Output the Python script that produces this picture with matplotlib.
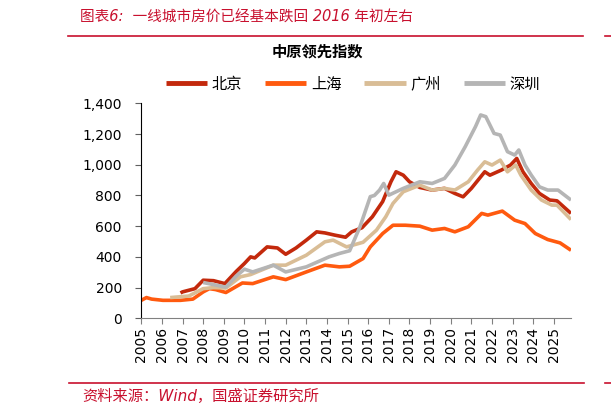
import matplotlib
matplotlib.use("Agg")
import matplotlib.pyplot as plt
from matplotlib.lines import Line2D
from matplotlib.ticker import StrMethodFormatter

plt.rcParams["font.family"] = ["DejaVu Sans", "Noto Sans CJK SC"]

# 中原领先指数（按图读数，时间为小数年份）
bj_t = [2006.9, 2007.0, 2007.6, 2008.0, 2008.5, 2009.05, 2009.6, 2010.0, 2010.3, 2010.5,
        2011.1, 2011.6, 2012.0, 2012.5, 2013.0, 2013.5, 2013.9, 2014.4, 2014.9, 2015.2,
        2015.7, 2016.2, 2016.7, 2017.1, 2017.35, 2017.7, 2018.0, 2018.5, 2019.1, 2019.7,
        2020.2, 2020.6, 2021.0, 2021.65, 2021.9, 2022.45, 2022.9, 2023.2, 2023.5, 2023.9,
        2024.3, 2024.8, 2025.15, 2025.83]
bj_v = [165, 172, 193, 248, 245, 226, 305, 357, 400, 393,
        465, 458, 417, 458, 509, 563, 556, 541, 528, 563,
        590, 661, 760, 889, 954, 932, 889, 852, 835, 846,
        813, 791, 846, 954, 932, 965, 998, 1041, 954, 878,
        813, 770, 765, 683]

sh_t = [2005.0, 2005.25, 2005.5, 2006.05, 2006.9, 2007.5, 2008.0, 2008.3, 2008.6, 2009.1,
        2009.9, 2010.4, 2011.4, 2012.0, 2013.0, 2013.9, 2014.6, 2015.1, 2015.75, 2016.1,
        2016.55, 2016.7, 2017.2, 2017.8, 2018.5, 2019.1, 2019.7, 2020.2, 2020.85, 2021.5,
        2021.8, 2022.5, 2023.1, 2023.6, 2024.1, 2024.7, 2025.3, 2025.83]
sh_v = [117, 135, 125, 117, 117, 125, 172, 193, 187, 168,
        230, 226, 270, 252, 302, 346, 335, 339, 389, 465,
        530, 552, 606, 606, 600, 574, 585, 563, 596, 683,
        672, 698, 639, 617, 552, 513, 491, 443]

gz_t = [2006.4, 2007.3, 2008.0, 2008.5, 2009.1, 2009.8, 2010.3, 2011.4, 2012.0, 2013.0,
        2013.9, 2014.3, 2014.95, 2015.75, 2016.4, 2016.85, 2017.2, 2017.7, 2018.5, 2019.1,
        2019.7, 2020.2, 2020.85, 2021.3, 2021.65, 2022.0, 2022.4, 2022.75, 2023.15, 2023.4,
        2023.9, 2024.4, 2024.9, 2025.15, 2025.83]
gz_v = [135, 145, 193, 200, 197, 270, 285, 346, 346, 411,
        498, 509, 465, 495, 574, 661, 748, 824, 867, 835,
        846, 835, 889, 965, 1019, 998, 1030, 954, 998, 932,
        835, 770, 737, 737, 643]

sz_t = [2008.0, 2009.1, 2009.6, 2010.0, 2010.4, 2011.4, 2012.0, 2013.0, 2014.1, 2014.6,
        2015.1, 2015.6, 2016.1, 2016.3, 2016.55, 2016.75, 2017.0, 2017.7, 2018.5, 2019.1,
        2019.7, 2020.2, 2020.7, 2021.2, 2021.45, 2021.7, 2022.1, 2022.4, 2022.75, 2023.1,
        2023.3, 2023.6, 2023.9, 2024.3, 2024.7, 2025.2, 2025.83]
sz_v = [233, 203, 275, 320, 302, 346, 302, 335, 400, 422,
        440, 596, 792, 800, 835, 878, 802, 846, 889, 878,
        911, 998, 1117, 1248, 1324, 1313, 1204, 1193, 1085, 1063,
        1096, 998, 933, 856, 835, 835, 770]

years = list(range(2005, 2026))

series = [
    ("北京", bj_t, bj_v, "#C3290C"),
    ("上海", sh_t, sh_v, "#FF5A0F"),
    ("广州", gz_t, gz_v, "#D9BD96"),
    ("深圳", sz_t, sz_v, "#B5B5B5"),
]

fig = plt.figure(figsize=(6.11, 4.12), dpi=100)
ax = fig.add_axes([141.3 / 611, 1 - 318.3 / 412, (571 - 141.3) / 611, (318.3 - 103.3) / 412])

for name, t, v, c in series:
    ax.plot(t, v, color=c, lw=2.6, label=name, solid_capstyle="butt")

ax.set_xlim(2005.0, 2025.83)
ax.set_ylim(0, 1400)
ax.set_yticks(range(0, 1401, 200))
ax.yaxis.set_major_formatter(StrMethodFormatter("{x:,.0f}"))
ax.set_xticks(years)
ax.set_xticklabels([str(y) for y in years], rotation=90)

for s in ["top", "right"]:
    ax.spines[s].set_visible(False)
ax.spines["left"].set_color("black")
ax.spines["bottom"].set_color("#808080")
ax.tick_params(axis="y", direction="out", length=4, color="#606060", labelsize=10, pad=10)
ax.tick_params(axis="x", direction="out", length=4, color="#808080", labelsize=10, pad=2)

# 图内标题与图例
fig.text(317 / 611, 1 - 52 / 412, "中原领先指数", fontsize=11, fontweight="bold",
         ha="center", va="center")
leg = fig.legend(loc="center", bbox_to_anchor=(353 / 611, 1 - 84 / 412), ncol=4, frameon=False,
                 fontsize=11, handlelength=2.7, columnspacing=1.5, handletextpad=0.3)
for h in leg.get_lines():
    h.set_linewidth(3.5)

# 页眉页脚
red = "#C8102E"
fig.text(80 / 611, 1 - 17 / 412, "图表6:  一线城市房价已经基本跌回 2016 年初左右", color=red,
         fontsize=10.5, style="italic", va="center", ha="left")
fig.add_artist(Line2D([68 / 611, 583 / 611], [1 - 36 / 412, 1 - 36 / 412], color=red, lw=1.2))
fig.add_artist(Line2D([605 / 611, 611 / 611], [1 - 36 / 412, 1 - 36 / 412], color=red, lw=1.2))
fig.add_artist(Line2D([69 / 611, 584 / 611], [1 - 383 / 412, 1 - 383 / 412], color=red, lw=1.2))
fig.add_artist(Line2D([605 / 611, 611 / 611], [1 - 383 / 412, 1 - 383 / 412], color=red, lw=1.2))
fig.text(82 / 611, 1 - 396 / 412, "资料来源：Wind，国盛证券研究所", color=red,
         fontsize=11, style="italic", va="center", ha="left")

fig.savefig("out.png", dpi=100)
